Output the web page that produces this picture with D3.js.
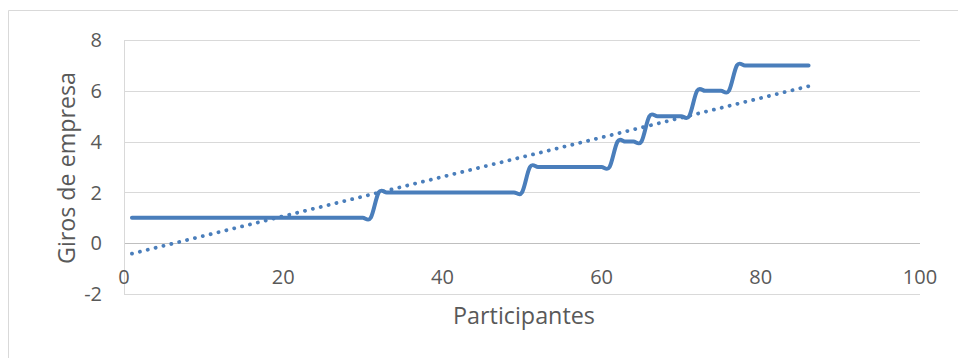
<!DOCTYPE html>
<html>
<head>
<meta charset="utf-8">
<script src="https://cdn.jsdelivr.net/npm/d3@7/dist/d3.min.js"></script>
<style>
  html, body { margin: 0; padding: 0; background: #fff; }
  svg { display: block; }
  text { font-family: "Open Sans", "Liberation Sans", sans-serif; fill: #595959; }
</style>
</head>
<body>
<svg id="chart" width="958" height="358"></svg>
<script>
// Company changes ("giros de empresa") per participant, participants 1..86
const participants = d3.range(1, 87);
const giros = [
  1,1,1,1,1,1,1,1,1,1,1,1,1,1,1,1,1,1,1,1,1,1,1,1,1,1,1,1,1,1,1,
  2,2,2,2,2,2,2,2,2,2,2,2,2,2,2,2,2,2,2,
  3,3,3,3,3,3,3,3,3,3,3,
  4,4,4,4,
  5,5,5,5,5,5,
  6,6,6,6,6,
  7,7,7,7,7,7,7,7,7,7
];
const xTicks = [0, 20, 40, 60, 80, 100];
const yTicks = [-2, 0, 2, 4, 6, 8];
const xTitle = "Participantes";
const yTitle = "Giros de empresa";

const svg = d3.select("#chart");
const lineColor = "#4a7ebb";

// Chart frame (light border, open on the right and bottom edges)
svg.append("path")
  .attr("d", "M8.5,358 L8.5,10.5 L958,10.5")
  .attr("fill", "none")
  .attr("stroke", "#d9d9d9")
  .attr("stroke-width", 1);

const x = d3.scaleLinear().domain([0, 100]).range([124, 920]);
const y = d3.scaleLinear().domain([-2, 8]).range([294, 40]);

// Horizontal gridlines
svg.append("g")
  .selectAll("line")
  .data(yTicks)
  .join("line")
  .attr("x1", x(0)).attr("x2", x(100))
  .attr("y1", d => Math.round(y(d)) + 0.5).attr("y2", d => Math.round(y(d)) + 0.5)
  .attr("stroke", d => d === 0 ? "#bfbfbf" : "#d9d9d9")
  .attr("stroke-width", 1);

// Vertical value axis line
svg.append("line")
  .attr("x1", Math.round(x(0)) + 0.5).attr("x2", Math.round(x(0)) + 0.5)
  .attr("y1", y(8)).attr("y2", y(-2))
  .attr("stroke", "#d9d9d9");

// Y tick labels
svg.append("g")
  .selectAll("text")
  .data(yTicks)
  .join("text")
  .attr("x", 102)
  .attr("y", d => y(d))
  .attr("dy", "0.36em")
  .attr("text-anchor", "end")
  .attr("font-size", 20)
  .text(d => d);

// X tick labels (placed just under the zero line)
svg.append("g")
  .selectAll("text")
  .data(xTicks)
  .join("text")
  .attr("x", d => x(d))
  .attr("y", 284)
  .attr("text-anchor", "middle")
  .attr("font-size", 20)
  .text(d => d);

// Axis titles
svg.append("text")
  .attr("x", 524)
  .attr("y", 324)
  .attr("text-anchor", "middle")
  .attr("font-size", 23)
  .attr("textLength", 142)
  .attr("lengthAdjust", "spacingAndGlyphs")
  .text(xTitle);

svg.append("text")
  .attr("transform", "translate(75,168) rotate(-90)")
  .attr("text-anchor", "middle")
  .attr("font-size", 23)
  .attr("textLength", 192)
  .attr("lengthAdjust", "spacingAndGlyphs")
  .text(yTitle);

const pts = participants.map((p, i) => [p, giros[i]]);

// Linear least-squares trendline
const n = pts.length;
const mx = d3.mean(pts, d => d[0]);
const my = d3.mean(pts, d => d[1]);
const slope = d3.sum(pts, d => (d[0] - mx) * (d[1] - my)) / d3.sum(pts, d => (d[0] - mx) ** 2);
const intercept = my - slope * mx;
const trend = [participants[0], participants[n - 1]].map(p => [p, intercept + slope * p]);

// Smoothed data line
svg.append("path")
  .datum(pts)
  .attr("fill", "none")
  .attr("stroke", lineColor)
  .attr("stroke-width", 4)
  .attr("stroke-linecap", "round")
  .attr("stroke-linejoin", "round")
  .attr("d", d3.line().x(d => x(d[0])).y(d => y(d[1])).curve(d3.curveCardinal.tension(0)));

// Dotted trendline
svg.append("path")
  .datum(trend)
  .attr("fill", "none")
  .attr("stroke", lineColor)
  .attr("stroke-width", 3.8)
  .attr("stroke-linecap", "round")
  .attr("stroke-dasharray", "0.1 8")
  .attr("d", d3.line().x(d => x(d[0])).y(d => y(d[1])));
</script>
</body>
</html>
